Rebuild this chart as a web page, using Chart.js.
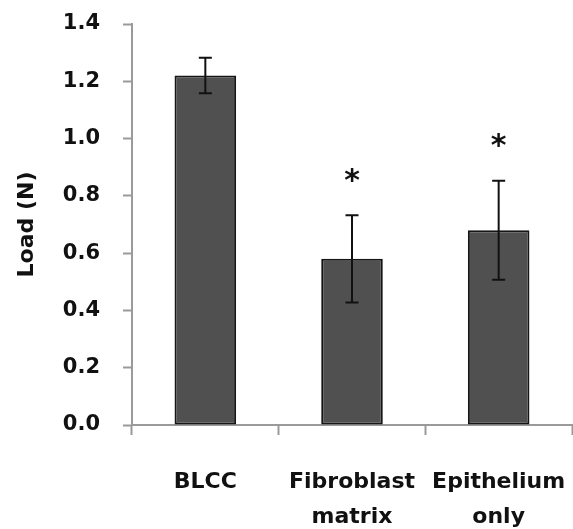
<!DOCTYPE html>
<html>
<head>
<meta charset="utf-8">
<script src="https://cdn.jsdelivr.net/npm/chart.js@4"></script>
<style>
  html, body { margin: 0; padding: 0; background: #fff; }
  #wrap { width: 573px; height: 529px; }
</style>
</head>
<body>
<div id="wrap"><canvas id="loadChart" width="573" height="529"></canvas></div>
<script>
// data
const categories = [['BLCC'], ['Fibroblast', 'matrix'], ['Epithelium', 'only']];
const loadMeans = [1.22, 0.58, 0.68];
const loadErrors = [0.062, 0.152, 0.173];
const significant = [false, true, true];
const yTicks = [0, 0.2, 0.4, 0.6, 0.8, 1.0, 1.2, 1.4];

const labelFont = { family: 'DejaVu Sans', weight: 'bold', size: 21 };
const axisGray = '#9a9a9a';

// error bars + asterisks
const errorBarPlugin = {
    id: 'errorBars',
    afterDatasetsDraw(chart) {
        const ctx = chart.ctx;
        const y = chart.scales.y;
        const meta = chart.getDatasetMeta(0);
        ctx.save();
        ctx.strokeStyle = '#111';
        ctx.lineWidth = 2;
        meta.data.forEach((bar, i) => {
            const x = bar.x;
            const top = y.getPixelForValue(loadMeans[i] + loadErrors[i]);
            const bottom = y.getPixelForValue(loadMeans[i] - loadErrors[i]);
            ctx.beginPath();
            ctx.moveTo(x, top);
            ctx.lineTo(x, bottom);
            ctx.moveTo(x - 6.5, top);
            ctx.lineTo(x + 6.5, top);
            ctx.moveTo(x - 6.5, bottom);
            ctx.lineTo(x + 6.5, bottom);
            ctx.stroke();
            if (significant[i]) {
                ctx.fillStyle = '#111';
                ctx.font = 'bold 30px "DejaVu Sans"';
                ctx.textAlign = 'center';
                ctx.textBaseline = 'middle';
                ctx.fillText('*', x, top - 33);
            }
        });
        ctx.restore();
    }
};

const ctx = document.getElementById('loadChart').getContext('2d');
const loadChart = new Chart(ctx, {
    type: 'bar',
    data: {
        labels: categories,
        datasets: [
            {
                label: 'Load (N)',
                data: loadMeans,
                backgroundColor: '#505050',
                borderColor: '#161616',
                borderWidth: 2,
                borderSkipped: false,
                categoryPercentage: 1,
                barPercentage: 0.42,
            },
        ],
    },
    options: {
        responsive: false,
        animation: false,
        layout: { padding: { top: 24, right: 1, left: 0, bottom: 0 } },
        plugins: {
            legend: { display: false },
            tooltip: { enabled: false },
        },
        scales: {
            x: {
                offset: true,
                grid: {
                    offset: true,
                    drawOnChartArea: false,
                    drawTicks: true,
                    tickLength: 10,
                    tickColor: axisGray,
                    tickWidth: 2,
                },
                border: { color: axisGray, width: 2 },
                ticks: {
                    color: '#111',
                    font: { ...labelFont, size: 22, lineHeight: 1.58 },
                    padding: 30,
                    maxRotation: 0,
                    autoSkip: false,
                },
                afterFit(scale) {
                    scale.height = 104;
                    scale.paddingLeft = 0;
                    scale.paddingRight = 0;
                },
            },
            y: {
                min: 0,
                max: 1.4,
                afterBuildTicks(scale) { scale.ticks = yTicks.map(v => ({ value: v })); },
                grid: {
                    drawOnChartArea: false,
                    drawTicks: true,
                    tickLength: 9,
                    tickColor: axisGray,
                    tickWidth: 2,
                },
                border: { color: axisGray, width: 2 },
                ticks: {
                    color: '#111',
                    font: labelFont,
                    padding: 23,
                    callback: v => v.toFixed(1),
                },
                title: {
                    display: true,
                    text: 'Load (N)',
                    color: '#111',
                    font: { ...labelFont, size: 22 },
                    padding: { top: 14, bottom: 0 },
                },
                afterFit(scale) {
                    scale.width = 132;
                    scale.paddingTop = 0;
                    scale.paddingBottom = 0;
                },
            },
        },
    },
    plugins: [errorBarPlugin],
});
</script>
</body>
</html>
